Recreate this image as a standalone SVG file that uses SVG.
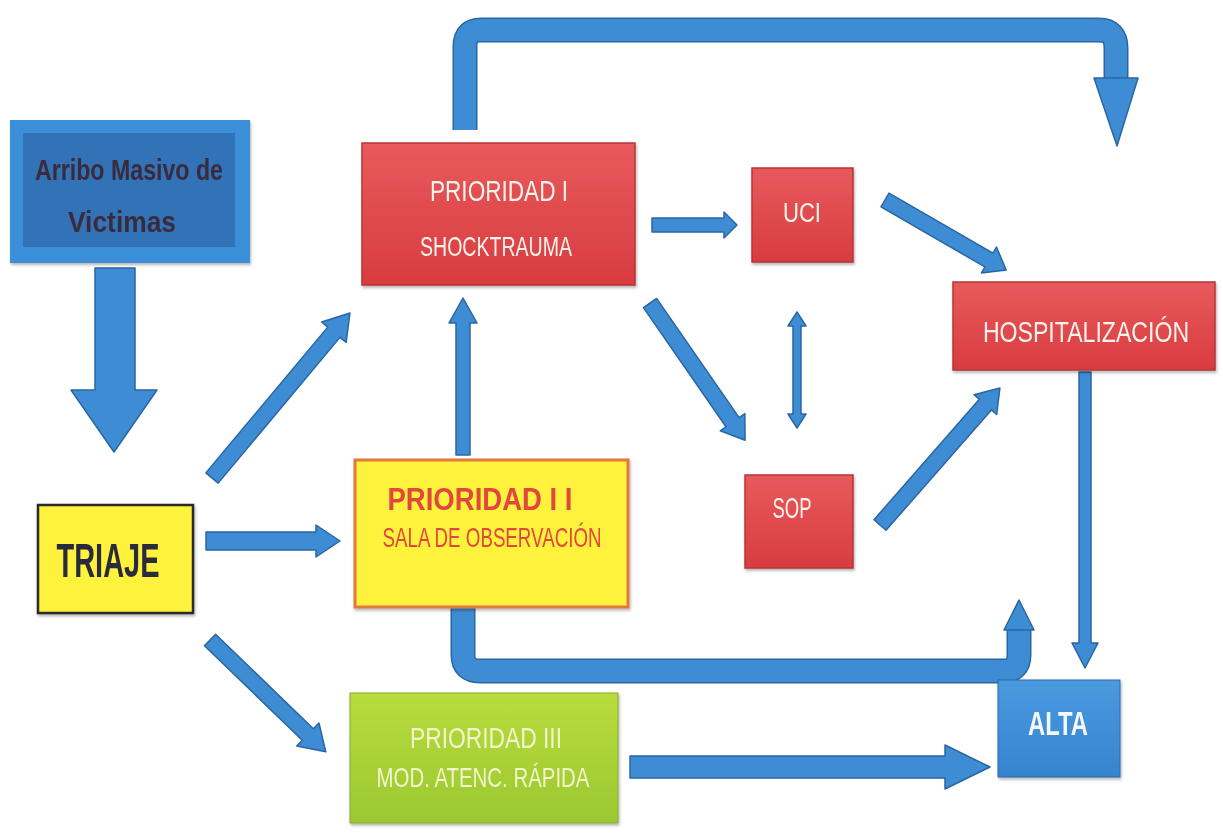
<svg xmlns="http://www.w3.org/2000/svg" width="1223" height="837" viewBox="0 0 1223 837">
<style>
  .txt{font-family:"Liberation Sans Narrow","Liberation Sans",Arial,sans-serif;text-anchor:middle}
  .arrow{fill:#3d8cd4;stroke:#2a66a3;stroke-width:1.5;stroke-linejoin:round}
  .bentO{fill:none;stroke:#2a66a3;stroke-width:25;stroke-linejoin:round}
  .bentI{fill:none;stroke:#3d8cd4;stroke-width:22;stroke-linejoin:round}
  .red{fill:url(#gRed);stroke:#b83436;stroke-width:1.5}
  .wt{fill:#fbf3ea}
</style>
<defs>
  <linearGradient id="gRed" x1="0" y1="0" x2="0" y2="1">
    <stop offset="0" stop-color="#e85a5c"/>
    <stop offset="1" stop-color="#d83c40"/>
  </linearGradient>
  <linearGradient id="gGreen" x1="0" y1="0" x2="0" y2="1">
    <stop offset="0" stop-color="#b8dc3c"/>
    <stop offset="1" stop-color="#9cc832"/>
  </linearGradient>
  <linearGradient id="gBlue" x1="0" y1="0" x2="0" y2="1">
    <stop offset="0" stop-color="#4a9ae0"/>
    <stop offset="1" stop-color="#3584cf"/>
  </linearGradient>
  <filter id="sh" x="-5%" y="-10%" width="110%" height="130%">
    <feDropShadow dx="1" dy="2" stdDeviation="1.5" flood-color="#000" flood-opacity="0.3"/>
  </filter>
</defs>
<rect width="1223" height="837" fill="#ffffff"/>

<g id="connectors">
  <!-- Arribo -> Triaje -->
  <polygon class="arrow" points="95,268 135,268 135,390 157,390 114,452 71,390 95,390"/>
  <!-- Triaje -> Prioridad I -->
  <polygon class="arrow" transform="translate(212,478) rotate(-50.1)" points="0,-8 190,-8 190,-16 215,0 190,16 190,8 0,8"/>
  <!-- Triaje -> Prioridad II -->
  <polygon class="arrow" transform="translate(206,541)" points="0,-9 110,-9 110,-16 134,0 110,16 110,9 0,9"/>
  <!-- Triaje -> Prioridad III -->
  <polygon class="arrow" transform="translate(210,640) rotate(44)" points="0,-8 136,-8 136,-16 161,0 136,16 136,8 0,8"/>
  <!-- Prioridad II -> Prioridad I -->
  <polygon class="arrow" transform="translate(463,455) rotate(-90)" points="0,-7 132,-7 132,-14 157,0 132,14 132,7 0,7"/>
  <!-- Prioridad I -> UCI -->
  <polygon class="arrow" transform="translate(652,225)" points="0,-7 72,-7 72,-13 85,0 72,13 72,7 0,7"/>
  <!-- Prioridad I -> SOP -->
  <polygon class="arrow" transform="translate(650,303) rotate(55.3)" points="0,-8 145,-8 145,-15 167,0 145,15 145,8 0,8"/>
  <!-- UCI <-> SOP -->
  <polygon class="arrow" transform="translate(797,312) rotate(90)" points="0,0 14,-9 14,-4 102,-4 102,-9 116,0 102,9 102,4 14,4 14,9"/>
  <!-- UCI -> Hospitalizacion -->
  <polygon class="arrow" transform="translate(885,200) rotate(30)" points="0,-8 120,-8 120,-15 140,0 120,15 120,8 0,8"/>
  <!-- SOP -> Hospitalizacion -->
  <polygon class="arrow" transform="translate(880,525) rotate(-48.8)" points="0,-8 160,-8 160,-15 182,0 160,15 160,8 0,8"/>
  <!-- Hospitalizacion -> Alta -->
  <polygon class="arrow" transform="translate(1085,372) rotate(90)" points="0,-6 271,-6 271,-13 296,0 271,13 271,6 0,6"/>
  <!-- Prioridad III -> Alta -->
  <polygon class="arrow" transform="translate(630,767)" points="0,-11 315,-11 315,-22 360,0 315,22 315,11 0,11"/>
  <!-- Prioridad I -> Hospitalizacion (top bent) -->
  <path class="bentO" d="M 465 130 V 46 Q 465 30 481 30 H 1099 Q 1116 30 1116 48 V 82"/>
  <path class="bentI" d="M 465 130 V 46 Q 465 30 481 30 H 1099 Q 1116 30 1116 48 V 82"/>
  <polygon class="arrow" points="1094,78 1138,78 1117,146"/>
  <!-- Prioridad II -> Alta (bottom bent) -->
  <path class="bentO" d="M 463 590 V 655 Q 463 671 480 671 H 1003 Q 1019 671 1019 655 V 628"/>
  <path class="bentI" d="M 463 590 V 655 Q 463 671 480 671 H 1003 Q 1019 671 1019 655 V 628"/>
  <polygon class="arrow" points="1004,630 1034,630 1019,600"/>
</g>

<g id="arribo" filter="url(#sh)">
  <rect x="10" y="120" width="240" height="143" fill="#3a8ed8"/>
  <rect x="23" y="133" width="212" height="114" fill="#3172b6"/>
  <text class="txt" x="129" y="180" font-size="30" font-weight="bold" fill="#3b2c3c" textLength="188" lengthAdjust="spacingAndGlyphs">Arribo Masivo de</text>
  <text class="txt" x="122" y="232" font-size="30" font-weight="bold" fill="#3b2c3c" textLength="108" lengthAdjust="spacingAndGlyphs">Victimas</text>
</g>

<g id="triaje" filter="url(#sh)">
  <rect x="38" y="505" width="155" height="108" fill="#fff23c" stroke="#2a2a2a" stroke-width="2.5"/>
  <text class="txt" x="108" y="577" font-size="48" font-weight="bold" fill="#2c2a3e" textLength="103" lengthAdjust="spacingAndGlyphs">TRIAJE</text>
</g>

<g id="prioridad1" filter="url(#sh)">
  <rect class="red" x="362" y="143" width="273" height="142"/>
  <text class="txt wt" x="499" y="201" font-size="30" textLength="138" lengthAdjust="spacingAndGlyphs">PRIORIDAD I</text>
  <text class="txt wt" x="496" y="256" font-size="28" textLength="152" lengthAdjust="spacingAndGlyphs">SHOCKTRAUMA</text>
</g>

<g id="prioridad2" filter="url(#sh)">
  <rect x="355" y="460" width="273" height="147" fill="#fff23c" stroke="#e2783a" stroke-width="3"/>
  <text class="txt" x="480" y="510" font-size="32" font-weight="bold" fill="#e2463e" textLength="185" lengthAdjust="spacingAndGlyphs">PRIORIDAD I I</text>
  <text class="txt" x="492" y="547" font-size="28" fill="#e2463e" textLength="219" lengthAdjust="spacingAndGlyphs">SALA DE OBSERVACIÓN</text>
</g>

<g id="prioridad3" filter="url(#sh)">
  <rect x="350" y="693" width="268" height="130" fill="url(#gGreen)" stroke="#8aa82c" stroke-width="1"/>
  <text class="txt" x="486" y="748" font-size="30" fill="#f2f4cc" textLength="152" lengthAdjust="spacingAndGlyphs">PRIORIDAD III</text>
  <text class="txt" x="483" y="787" font-size="28" fill="#f2f4cc" textLength="213" lengthAdjust="spacingAndGlyphs">MOD. ATENC. RÁPIDA</text>
</g>

<g id="uci" filter="url(#sh)">
  <rect class="red" x="752" y="168" width="101" height="94"/>
  <text class="txt wt" x="802" y="222" font-size="27" textLength="38" lengthAdjust="spacingAndGlyphs">UCI</text>
</g>

<g id="sop" filter="url(#sh)">
  <rect class="red" x="745" y="475" width="108" height="93"/>
  <text class="txt wt" x="792" y="518" font-size="30" textLength="39" lengthAdjust="spacingAndGlyphs">SOP</text>
</g>

<g id="hospitalizacion" filter="url(#sh)">
  <rect class="red" x="953" y="282" width="262" height="88"/>
  <text class="txt wt" transform="translate(1086,342) scale(0.77,1)" x="0" y="0" font-size="30">HOSPITALIZACIÓN</text>
</g>

<g id="alta" filter="url(#sh)">
  <rect x="998" y="680" width="122" height="97" fill="url(#gBlue)" stroke="#2c6aa8" stroke-width="1"/>
  <text class="txt" x="1058" y="735" font-size="34" font-weight="bold" fill="#f4f6fa" textLength="60" lengthAdjust="spacingAndGlyphs">ALTA</text>
</g>
</svg>
